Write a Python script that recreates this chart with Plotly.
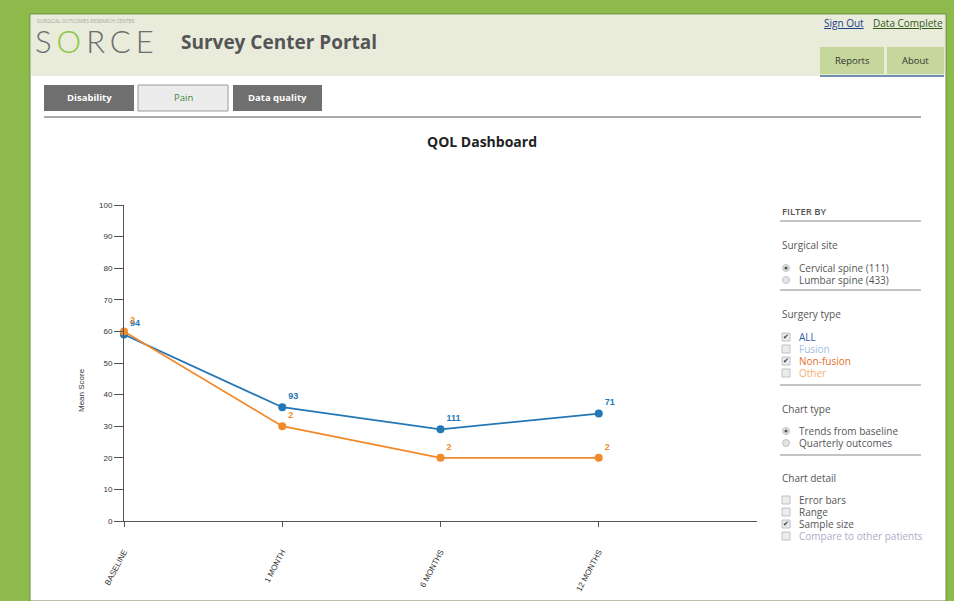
import plotly.graph_objects as go

# ---------------- data ----------------
categories = ["BASELINE", "1 MONTH", "6 MONTHS", "12 MONTHS"]
all_scores = [59, 36, 29, 34]
all_n = [94, 93, 111, 71]
nonfusion_scores = [60, 30, 20, 20]
nonfusion_n = [2, 2, 2, 2]
y_ticks = list(range(0, 101, 10))

BLUE = "#2377b4"
ORANGE = "#f08a2a"
GREEN_BG = "#8dba4b"
UI = "Open Sans, DejaVu Sans, sans-serif"
CH = "Arial, Liberation Sans, sans-serif"

W, H = 954, 601
def X(px):
    return px / W
def Y(py):
    return 1 - py / H

fig = go.Figure()
fig.add_trace(go.Scatter(
    x=categories, y=all_scores, text=[str(v) for v in all_n],
    mode="lines+markers+text", textposition="top right",
    line=dict(color=BLUE, width=1.8), marker=dict(color=BLUE, size=8),
    textfont=dict(color=BLUE, size=9, family=CH, weight="bold"),
    cliponaxis=False, hoverinfo="skip", name="ALL"))
fig.add_trace(go.Scatter(
    x=categories, y=nonfusion_scores, text=[str(v) for v in nonfusion_n],
    mode="lines+markers+text", textposition="top right",
    line=dict(color=ORANGE, width=1.8), marker=dict(color=ORANGE, size=8),
    textfont=dict(color=ORANGE, size=9, family=CH, weight="bold"),
    cliponaxis=False, hoverinfo="skip", name="Non-fusion"))

shapes = []
ann = []

def rect(x0, y0, x1, y1, fill, line=None, lw=0, layer="below"):
    shapes.append(dict(type="rect", xref="paper", yref="paper",
                       x0=X(x0), x1=X(x1), y0=Y(y1), y1=Y(y0),
                       fillcolor=fill, line=dict(color=line or fill, width=lw),
                       layer=layer))

def hline(x0, x1, y, color, lw=1):
    shapes.append(dict(type="line", xref="paper", yref="paper",
                       x0=X(x0), x1=X(x1), y0=Y(y), y1=Y(y),
                       line=dict(color=color, width=lw), layer="below"))

def circ(cx, cy, r, fill, line, lw=0.8):
    shapes.append(dict(type="circle", xref="paper", yref="paper",
                       x0=X(cx - r), x1=X(cx + r), y0=Y(cy + r), y1=Y(cy - r),
                       fillcolor=fill, line=dict(color=line, width=lw), layer="above"))

def text(x, y, s, size=10, color="#555", family=UI, xa="left", ya="middle", weight="normal", angle=0):
    ann.append(dict(x=X(x), y=Y(y), xref="paper", yref="paper", text=s,
                    showarrow=False, xanchor=xa, yanchor=ya, textangle=angle,
                    font=dict(size=size, color=color, family=family, weight=weight)))

# page
rect(30, 14, 946, 601, "#ffffff", "#6f8a44", 1)
rect(31, 15, 945, 76, "#e9ebdb")

# header
text(35, 21, "SURGICAL OUTCOMES RESEARCH CENTER", size=5, color="#a8a8a0")
text(33, 41, "<span style='letter-spacing:5px'>S<span style='color:#8cc63f'>O</span>RCE</span>",
     size=31, color="#6d6d6d", family="Lato, Open Sans, sans-serif", weight=300)
text(179, 42, "Survey Center Portal", size=19, color="#555555", weight="bold")
text(844, 23, "<u>Sign Out</u>", size=10, color="#1b3f8f", xa="center")
text(908, 23, "<u>Data Complete</u>", size=10, color="#2f5a14", xa="center")
rect(820, 47, 884, 74, "#c6d79b")
rect(887, 47, 944, 74, "#c6d79b")
text(852, 60, "Reports", size=9.5, color="#333", xa="center")
text(915, 60, "About", size=9.5, color="#333", xa="center")
hline(820, 944, 76, "#6f8fb0", 2)

# tabs
rect(44, 85, 134, 111, "#6f6f6f")
rect(138, 85, 228, 111, "#ececec", "#9a9a9a", 1)
rect(233, 85, 322, 111, "#6f6f6f")
text(89, 98, "Disability", size=9.5, color="#ffffff", xa="center", weight="bold")
text(183, 98, "Pain", size=9.5, color="#3c8a3c", xa="center")
text(277.5, 98, "Data quality", size=9.5, color="#ffffff", xa="center", weight="bold")
hline(44, 921, 117, "#aaaaaa", 2)

# title
text(482, 141, "QOL Dashboard", size=14, color="#222", xa="center", weight="bold")

# y-axis title
text(81, 390, "Mean Score", size=8, color="#333", family=CH, xa="center", angle=-90)

# right filter panel
text(780, 211, "FILTER BY", size=9.5, color="#555", weight=600)
hline(780, 921, 221, "#888", 1)
text(780, 245, "Surgical site", size=10, color="#555")
radio_items = [(268, "Cervical spine (111)", True), (280, "Lumbar spine (433)", False)]
for yy, s, on in radio_items:
    circ(786, yy, 3.5, "#e4e4e4", "#b5b5b5")
    if on:
        circ(786, yy, 1.6, "#555", "#555", 0)
    text(797, yy, s, size=10, color="#555")
hline(780, 921, 290, "#888", 1)
text(780, 314, "Surgery type", size=10, color="#555")
check_items = [(337, "ALL", "#2c5d9e", True), (349, "Fusion", "#9fc2e2", False),
               (361, "Non-fusion", "#e8702a", True), (373, "Other", "#f5b070", False)]
for yy, s, c, on in check_items:
    rect(782, yy - 4, 790, yy + 4, "#ececec", "#b5b5b5", 0.8, layer="above")
    if on:
        text(786, yy, "✔", size=7, color="#333", family="DejaVu Sans", xa="center")
    text(797, yy, s, size=10, color=c)
hline(780, 921, 385, "#888", 1)
text(780, 409, "Chart type", size=10, color="#555")
radio2 = [(431, "Trends from baseline", True), (443, "Quarterly outcomes", False)]
for yy, s, on in radio2:
    circ(786, yy, 3.5, "#e4e4e4", "#b5b5b5")
    if on:
        circ(786, yy, 1.6, "#555", "#555", 0)
    text(797, yy, s, size=10, color="#555")
hline(780, 921, 455, "#888", 1)
text(780, 478, "Chart detail", size=10, color="#555")
detail_items = [(500, "Error bars", "#555", False), (512, "Range", "#555", False),
                (524, "Sample size", "#555", True), (536, "Compare to other patients", "#b5a9c9", False)]
for yy, s, c, on in detail_items:
    rect(782, yy - 4, 790, yy + 4, "#ececec", "#b5b5b5", 0.8, layer="above")
    if on:
        text(786, yy, "✔", size=7, color="#333", family="DejaVu Sans", xa="center")
    text(797, yy, s, size=10, color=c)

fig.update_layout(
    width=W, height=H, autosize=False,
    margin=dict(l=0, r=0, t=0, b=0, autoexpand=False),
    paper_bgcolor=GREEN_BG, plot_bgcolor="rgba(0,0,0,0)",
    showlegend=False, shapes=shapes, annotations=ann,
    xaxis=dict(domain=[X(124), X(757)], type="category", range=[0, 4],
               automargin=False,
               showline=True, linecolor="#555", linewidth=1,
               ticks="outside", ticklen=5, tickcolor="#555",
               tickangle=-62, ticklabelstandoff=17,
               tickfont=dict(size=8, color="#333", family=CH),
               showgrid=False, zeroline=False, fixedrange=True),
    yaxis=dict(domain=[Y(521), Y(205)], range=[0, 100],
               automargin=False,
               tickvals=y_ticks,
               showline=True, linecolor="#555", linewidth=1,
               ticks="outside", ticklen=9, tickcolor="#555",
               tickfont=dict(size=8, color="#333", family=CH),
               showgrid=False, zeroline=False, fixedrange=True),
    hovermode=False,
)

fig.write_html("out.html", config={"displayModeBar": False},
               post_script="document.body.style.margin='0';document.body.style.background='" + GREEN_BG + "';")
